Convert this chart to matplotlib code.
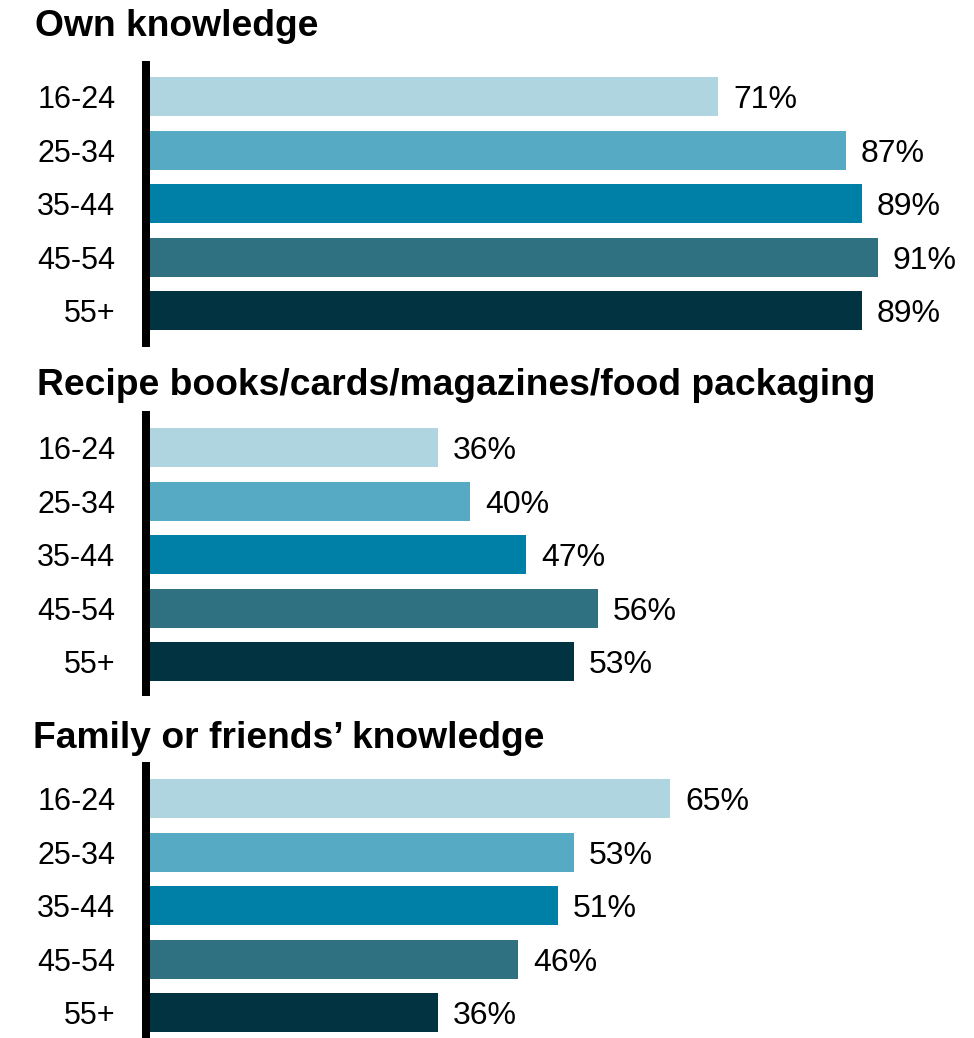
import matplotlib
matplotlib.use("Agg")
import matplotlib.pyplot as plt

plt.rcParams['font.family'] = ['Liberation Sans', 'DejaVu Sans']

ages = ["16-24", "25-34", "35-44", "45-54", "55+"]
colors = ["#afd6e0", "#56aac4", "#0080a6", "#2f7181", "#023341"]

titles = ["Own knowledge",
          "Recipe books/cards/magazines/food packaging",
          "Family or friends\u2019 knowledge"]
own_knowledge = [71, 87, 89, 91, 89]
recipe_books = [36, 40, 47, 56, 53]
family_friends = [65, 53, 51, 46, 36]

W, H = 974, 1038

# panel geometry in pixels: axis line top/bottom, first bar centre, title x/baseline
panels = [
    dict(values=own_knowledge, top=65, bottom=343, c0=96.5, tx=35, ty=36),
    dict(values=recipe_books, top=415, bottom=692, c0=447.5, tx=37, ty=395),
    dict(values=family_friends, top=766, bottom=1045, c0=798.5, tx=33, ty=748),
]
pitch = 53.6
x0, px_per_pct = 150, 8.0
pt = 72 / 100  # points per pixel

fig = plt.figure(figsize=(W / 100, H / 100), dpi=100)

for title, p in zip(titles, panels):
    width = 100 * px_per_pct
    ax = fig.add_axes([x0 / W, 1 - p['bottom'] / H, width / W, (p['bottom'] - p['top']) / H])
    ax.barh(range(5), p['values'], height=39 / pitch, color=colors)
    ax.set_xlim(0, 100)
    ax.set_ylim(4 + (p['bottom'] - (p['c0'] + 4 * pitch)) / pitch,
                -(p['c0'] - p['top']) / pitch)
    for i, v in enumerate(p['values']):
        ax.annotate(f"{v}%", (v, i), xytext=(15 * pt, -11.5 * pt),
                    textcoords='offset points', va='baseline', ha='left', fontsize=23)
    ax.set_yticks(range(5), ages)
    ax.set_xticks([])
    ax.tick_params(axis='y', length=0, pad=22, labelsize=22)
    for s in ['top', 'right', 'bottom']:
        ax.spines[s].set_visible(False)
    ax.spines['left'].set_linewidth(8 * pt)
    ax.spines['left'].set_position(('outward', 4 * pt))
    ax.patch.set_visible(False)
    fig.text(p['tx'] / W, 1 - p['ty'] / H, title, fontsize=26.8, fontweight='bold',
             ha='left', va='baseline')

fig.savefig("out.png", dpi=100)
